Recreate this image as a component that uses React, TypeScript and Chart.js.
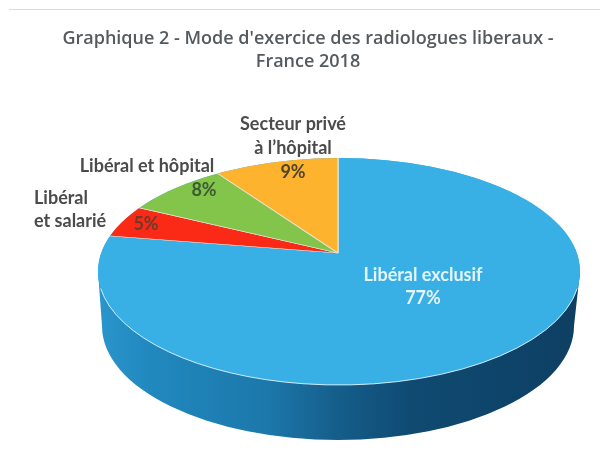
import React, { useEffect, useRef } from "react";
import { Chart, registerables } from "chart.js";

Chart.register(...registerables);

const categories = ["Libéral exclusif", "Libéral et salarié", "Libéral et hôpital", "Secteur privé à l’hôpital"];
const values = [77, 5, 8, 9];
const sliceColors = ["#38b0e6", "#fb2a16", "#83c44a", "#fdb32e"];
const titleLines = ["Graphique 2 - Mode d'exercice des radiologues liberaux -", "France 2018"];

// Annotation layout (text, x, y, alignment, colour)
const notes: [string, number, number, CanvasTextAlign, string][] = [
  ["Secteur privé", 293, 124, "center", "#4b4b4b"],
  ["à l’hôpital", 293, 148, "center", "#4b4b4b"],
  ["9%", 293, 172, "center", "#4a4630"],
  ["Libéral et hôpital", 147, 166, "center", "#4b4b4b"],
  ["8%", 204, 190, "center", "#3c5a34"],
  ["Libéral", 34, 198, "left", "#4b4b4b"],
  ["et salarié", 34, 221, "left", "#4b4b4b"],
  ["5%", 146, 224, "center", "#6e3a2a"],
  ["Libéral exclusif", 423, 275, "center", "#e6f4fb"],
  ["77%", 423, 298, "center", "#e6f4fb"],
];

const APEX_X = 338, APEX_Y = 253, K = 0.425;
const TOP = { cx: 339, cy: 271.5, rx: 241, ry: 113.5 };
const BASE = { cx: 338, cy: 326, rx: 236, ry: 114 };

const pie3d = {
  id: "pie3d",
  beforeDatasetsDraw(chart: any) {
    const ctx = chart.ctx as CanvasRenderingContext2D;
    // side wall
    const g = ctx.createLinearGradient(TOP.cx - TOP.rx, 0, TOP.cx + TOP.rx, 0);
    g.addColorStop(0, "#2a96cc");
    g.addColorStop(0.1, "#2189bf");
    g.addColorStop(0.35, "#1c78ab");
    g.addColorStop(0.5, "#155d8a");
    g.addColorStop(0.65, "#0f4a72");
    g.addColorStop(1, "#0e3f63");
    ctx.save();
    ctx.fillStyle = g;
    ctx.beginPath();
    ctx.moveTo(TOP.cx - TOP.rx, TOP.cy);
    ctx.lineTo(BASE.cx - BASE.rx, BASE.cy);
    ctx.ellipse(BASE.cx, BASE.cy, BASE.rx, BASE.ry, 0, Math.PI, 0, true);
    ctx.lineTo(TOP.cx + TOP.rx, TOP.cy);
    ctx.closePath();
    ctx.fill();
    // blue backing under the top face
    ctx.fillStyle = sliceColors[0];
    ctx.beginPath();
    ctx.ellipse(TOP.cx, TOP.cy, TOP.rx, TOP.ry, 0, 0, Math.PI * 2);
    ctx.fill();
    ctx.restore();

    // top face: pie scaled around its apex and clipped to the ellipse
    const arc = chart.getDatasetMeta(0).data[0];
    const S = 400 / arc.outerRadius;
    ctx.save();
    ctx.beginPath();
    ctx.ellipse(TOP.cx, TOP.cy, TOP.rx, TOP.ry, 0, 0, Math.PI * 2);
    ctx.clip();
    ctx.translate(APEX_X, APEX_Y);
    ctx.scale(S, S * K);
    ctx.translate(-arc.x, -arc.y);
  },
  afterDatasetsDraw(chart: any) {
    const ctx = chart.ctx as CanvasRenderingContext2D;
    ctx.restore();
    // pale rim on the front edge
    ctx.save();
    ctx.strokeStyle = "rgba(225,243,252,0.9)";
    ctx.lineWidth = 1;
    ctx.beginPath();
    ctx.ellipse(TOP.cx, TOP.cy, TOP.rx, TOP.ry, 0, 0.15, Math.PI - 0.15);
    ctx.stroke();
    // annotations
    ctx.font = "700 18px Lato, sans-serif";
    ctx.textBaseline = "middle";
    for (const [text, x, y, align, color] of notes) {
      ctx.textAlign = align;
      ctx.fillStyle = color;
      ctx.fillText(text, x, y);
    }
    ctx.restore();
  },
};

export default function App() {
  const ref = useRef<HTMLCanvasElement>(null);
  useEffect(() => {
    document.body.style.margin = "0";
    document.body.style.background = "#fff";
    const chart = new Chart(ref.current!, {
      type: "pie",
      data: {
        labels: categories,
        datasets: [{
          data: values,
          backgroundColor: sliceColors,
          borderColor: "#e8e4d8",
          borderWidth: 0.5,
          hoverOffset: 0,
          clip: false,
        } as any],
      },
      options: {
        responsive: false,
        animation: false,
        events: [],
        layout: { padding: { left: 16, top: 27, bottom: 10, right: 0 } },
        plugins: {
          legend: { display: false },
          tooltip: { enabled: false },
          title: {
            display: true,
            text: titleLines,
            color: "#555a5e",
            font: { family: "'Open Sans', sans-serif", size: 18, weight: 600, lineHeight: 1.28 },
            padding: { top: 0, bottom: 20 },
          },
        },
      },
      plugins: [pie3d],
    });
    return () => chart.destroy();
  }, []);
  return (
    <div style={{ position: "relative", width: 600, height: 453 }}>
      <canvas ref={ref} width={600} height={453} style={{ display: "block" }} />
      <div style={{ position: "absolute", left: 9, right: 0, top: 9, height: 1, background: "#cfe0e4" }} />
    </div>
  );
}
